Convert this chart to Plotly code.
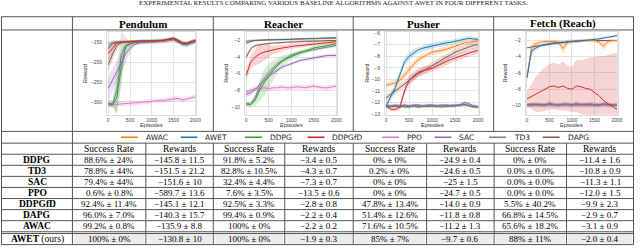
import plotly.graph_objects as go

W, H = 640, 252


def X(p):
    return p / W


def Y(p):
    return 1 - p / H


# ---------------- data ----------------
EPISODES = list(range(0, 2001, 100))
TASKS = ["Pendulum", "Reacher", "Pusher", "Fetch (Reach)"]
ALGOS = ["AWAC", "AWET", "DDPG", "DDPGfD", "PPO", "SAC", "TD3", "DAPG"]
COLORS = {"AWAC": "#ff7f0e", "AWET": "#1f77b4", "DDPG": "#2ca02c", "DDPGfD": "#d62728",
          "PPO": "#e377c2", "SAC": "#9467bd", "TD3": "#7f7f7f", "DAPG": "#8c564b"}

PENDULUM_MEAN = {
    "AWAC": [-155, -153, -152, -151, -150, -149, -149, -148, -148, -148, -148, -147, -147, -146, -144, -143, -147, -152, -153, -150, -147],
    "AWET": [-166, -152, -150, -150, -149, -148, -148, -147, -147, -147, -148, -147, -146, -145, -143, -142, -147, -153, -154, -150, -146],
    "DDPG": [-305, -307, -288, -212, -160, -154, -151, -150, -149, -149, -148, -148, -147, -146, -144, -142, -147, -154, -155, -150, -147],
    "DDPGfD": [-179, -165, -151, -150, -149, -148, -148, -147, -146, -147, -147, -147, -146, -145, -142, -140, -145, -152, -153, -149, -146],
    "PPO": [-308, -307, -305, -305, -304, -303, -302, -302, -300, -300, -298, -297, -296, -296, -294, -292, -291, -295, -292, -290, -287],
    "SAC": [-266, -245, -222, -200, -180, -165, -156, -152, -150, -149, -149, -148, -147, -147, -144, -143, -148, -154, -155, -151, -148],
    "TD3": [-303, -304, -270, -180, -158, -153, -151, -150, -149, -149, -148, -148, -147, -146, -144, -142, -147, -154, -156, -151, -147],
    "DAPG": [-207, -180, -158, -151, -150, -149, -148, -148, -147, -148, -148, -147, -146, -146, -143, -142, -146, -153, -154, -150, -147],
}
PENDULUM_STD = {
    "AWAC": [8, 6, 4, 3, 3, 3, 3, 3, 3, 3, 3, 3, 3, 3, 4, 4, 4, 4, 4, 4, 4],
    "AWET": [12, 8, 4, 3, 3, 3, 3, 3, 3, 3, 3, 3, 3, 3, 4, 4, 4, 4, 4, 4, 4],
    "DDPG": [6, 6, 40, 50, 10, 5, 4, 4, 4, 4, 4, 4, 4, 4, 4, 4, 5, 5, 5, 5, 5],
    "DDPGfD": [20, 15, 6, 4, 3, 3, 3, 3, 3, 3, 3, 3, 3, 3, 4, 4, 4, 4, 4, 4, 4],
    "PPO": [7, 6, 6, 7, 6, 6, 7, 6, 6, 7, 6, 6, 7, 6, 6, 7, 6, 6, 7, 6, 6],
    "SAC": [30, 30, 28, 25, 22, 12, 6, 4, 4, 4, 4, 4, 4, 4, 4, 4, 5, 5, 5, 5, 5],
    "TD3": [9, 9, 60, 60, 20, 8, 6, 6, 6, 6, 6, 6, 6, 6, 6, 6, 7, 7, 7, 7, 7],
    "DAPG": [15, 15, 10, 5, 3, 3, 3, 3, 3, 3, 3, 3, 3, 3, 4, 4, 4, 4, 4, 4, 4],
}

REACHER_MEAN = {
    "AWAC": [-2.05, -2.0, -1.95, -1.95, -1.95, -1.9, -1.9, -1.9, -1.9, -1.85, -1.85, -1.85, -1.85, -1.8, -1.8, -1.8, -1.8, -1.8, -1.75, -1.75, -1.75],
    "AWET": [-2.3, -2.1, -2.0, -1.95, -1.95, -1.9, -1.9, -1.9, -1.85, -1.85, -1.85, -1.8, -1.8, -1.8, -1.75, -1.75, -1.75, -1.7, -1.7, -1.7, -1.65],
    "DDPG": [-9.6, -9.7, -9.2, -8.0, -7.1, -6.3, -5.6, -5.0, -4.5, -4.2, -3.9, -3.7, -3.5, -3.3, -3.1, -2.9, -2.8, -2.7, -2.6, -2.5, -2.4],
    "DDPGfD": [-6.2, -4.6, -4.0, -3.6, -3.4, -3.25, -3.1, -3.0, -2.9, -2.8, -2.7, -2.65, -2.6, -2.55, -2.5, -2.45, -2.4, -2.3, -2.25, -2.2, -2.15],
    "PPO": [-8.2, -8.0, -7.8, -7.8, -7.7, -7.8, -7.7, -7.7, -7.6, -7.7, -7.7, -7.6, -7.6, -7.7, -7.6, -7.5, -7.6, -7.7, -7.7, -7.6, -7.5],
    "SAC": [-8.5, -8.3, -7.9, -7.3, -6.8, -6.3, -5.9, -5.5, -5.2, -5.0, -4.8, -4.6, -4.4, -4.3, -4.2, -4.1, -4.0, -3.9, -3.8, -3.8, -3.8],
    "TD3": [-9.7, -9.7, -8.9, -7.6, -6.6, -5.9, -5.3, -4.8, -4.4, -4.1, -3.8, -3.6, -3.4, -3.3, -3.2, -3.1, -3.0, -2.9, -2.8, -2.7, -2.6],
    "DAPG": [-4.0, -3.0, -2.6, -2.5, -2.4, -2.35, -2.3, -2.3, -2.25, -2.2, -2.2, -2.15, -2.15, -2.1, -2.1, -2.1, -2.05, -2.05, -2.0, -2.0, -2.0],
}
REACHER_STD = {
    "AWAC": [0.2, 0.15, 0.1, 0.1, 0.1, 0.1, 0.1, 0.1, 0.1, 0.1, 0.1, 0.1, 0.1, 0.1, 0.1, 0.1, 0.1, 0.1, 0.1, 0.1, 0.1],
    "AWET": [0.25, 0.15, 0.12, 0.1, 0.1, 0.1, 0.1, 0.1, 0.1, 0.1, 0.1, 0.1, 0.1, 0.1, 0.1, 0.1, 0.1, 0.1, 0.1, 0.1, 0.1],
    "DDPG": [0.3, 0.3, 0.7, 1.3, 1.6, 1.5, 1.2, 0.9, 0.7, 0.5, 0.4, 0.35, 0.3, 0.3, 0.3, 0.25, 0.25, 0.25, 0.2, 0.2, 0.2],
    "DDPGfD": [0.6, 0.8, 1.0, 1.2, 1.0, 0.8, 0.5, 0.4, 0.35, 0.3, 0.3, 0.25, 0.25, 0.25, 0.2, 0.2, 0.2, 0.2, 0.2, 0.2, 0.2],
    "PPO": [0.3, 0.3, 0.3, 0.3, 0.3, 0.3, 0.3, 0.35, 0.3, 0.3, 0.3, 0.35, 0.3, 0.3, 0.35, 0.3, 0.3, 0.3, 0.35, 0.3, 0.3],
    "SAC": [0.3, 0.3, 0.25, 0.25, 0.25, 0.2, 0.2, 0.2, 0.2, 0.2, 0.2, 0.2, 0.2, 0.2, 0.2, 0.2, 0.2, 0.2, 0.2, 0.2, 0.2],
    "TD3": [0.3, 0.3, 0.4, 0.5, 0.4, 0.35, 0.3, 0.3, 0.25, 0.25, 0.2, 0.2, 0.2, 0.2, 0.2, 0.2, 0.2, 0.2, 0.2, 0.2, 0.2],
    "DAPG": [0.3, 0.2, 0.15, 0.1, 0.1, 0.1, 0.1, 0.1, 0.1, 0.1, 0.1, 0.1, 0.1, 0.1, 0.1, 0.1, 0.1, 0.1, 0.1, 0.1, 0.1],
}

PUSHER_MEAN = {
    "AWAC": [-10.5, -10.4, -10.3, -10.1, -9.6, -9.1, -8.7, -8.3, -8.05, -7.85, -7.65, -7.6, -7.5, -7.4, -7.3, -7.15, -7.0, -6.85, -6.8, -6.7, -6.65],
    "AWET": [-12.3, -11.5, -10.7, -9.6, -8.5, -8.0, -7.7, -7.45, -7.3, -7.2, -7.1, -7.0, -6.95, -6.85, -6.8, -6.7, -6.65, -6.55, -6.45, -6.5, -6.55],
    "DDPG": [-12.3, -12.4, -12.3, -12.4, -12.3, -12.4, -12.3, -12.35, -12.3, -12.35, -12.3, -12.35, -12.3, -12.3, -12.25, -12.3, -12.2, -12.15, -12.3, -12.35, -12.4],
    "DDPGfD": [-12.3, -12.6, -12.6, -12.4, -11.0, -10.1, -9.7, -9.4, -9.25, -9.15, -9.05, -8.85, -8.65, -8.5, -8.3, -8.15, -8.0, -7.85, -7.7, -7.6, -7.5],
    "PPO": [-12.25, -12.3, -12.2, -12.3, -12.25, -12.3, -12.2, -12.25, -12.3, -12.2, -12.25, -12.3, -12.2, -12.3, -12.25, -12.2, -12.3, -12.25, -12.2, -12.3, -12.3],
    "SAC": [-12.2, -12.3, -12.25, -12.3, -12.2, -12.3, -12.25, -12.2, -12.3, -12.25, -12.2, -12.3, -12.25, -12.2, -12.3, -12.25, -12.2, -12.0, -12.1, -12.3, -12.35],
    "TD3": [-12.4, -12.3, -12.35, -12.3, -12.4, -12.35, -12.3, -12.4, -12.35, -12.3, -12.35, -12.3, -12.4, -12.35, -12.3, -12.3, -12.25, -12.2, -12.3, -12.4, -12.4],
    "DAPG": [-11.6, -11.3, -11.0, -10.7, -10.4, -10.1, -9.8, -9.5, -9.3, -9.05, -8.8, -8.6, -8.35, -8.1, -7.9, -7.65, -7.5, -7.35, -7.15, -7.05, -7.0],
}
PUSHER_STD = {
    "AWAC": [0.2, 0.25, 0.3, 0.35, 0.35, 0.3, 0.3, 0.3, 0.25, 0.25, 0.25, 0.25, 0.25, 0.25, 0.2, 0.2, 0.2, 0.2, 0.2, 0.2, 0.2],
    "AWET": [0.2, 0.3, 0.35, 0.4, 0.35, 0.3, 0.3, 0.25, 0.25, 0.25, 0.25, 0.25, 0.25, 0.25, 0.2, 0.2, 0.2, 0.2, 0.2, 0.2, 0.2],
    "DDPG": [0.1, 0.12, 0.1, 0.12, 0.1, 0.12, 0.1, 0.12, 0.1, 0.12, 0.1, 0.12, 0.1, 0.12, 0.1, 0.12, 0.1, 0.12, 0.1, 0.12, 0.1],
    "DDPGfD": [0.1, 0.15, 0.15, 0.3, 0.4, 0.45, 0.4, 0.35, 0.35, 0.35, 0.3, 0.3, 0.3, 0.3, 0.3, 0.3, 0.3, 0.3, 0.3, 0.3, 0.3],
    "PPO": [0.12, 0.13, 0.12, 0.13, 0.12, 0.13, 0.12, 0.13, 0.12, 0.13, 0.12, 0.13, 0.12, 0.13, 0.12, 0.13, 0.12, 0.13, 0.12, 0.13, 0.12],
    "SAC": [0.12, 0.12, 0.13, 0.12, 0.12, 0.13, 0.12, 0.12, 0.13, 0.12, 0.12, 0.13, 0.12, 0.12, 0.13, 0.12, 0.12, 0.15, 0.13, 0.12, 0.12],
    "TD3": [0.13, 0.12, 0.12, 0.13, 0.12, 0.12, 0.13, 0.12, 0.12, 0.13, 0.12, 0.12, 0.13, 0.12, 0.12, 0.13, 0.12, 0.12, 0.13, 0.12, 0.12],
    "DAPG": [0.3, 0.3, 0.3, 0.3, 0.3, 0.3, 0.3, 0.3, 0.3, 0.3, 0.3, 0.3, 0.3, 0.3, 0.3, 0.3, 0.3, 0.3, 0.3, 0.3, 0.3],
}

FETCH_MEAN = {
    "AWAC": [-6.5, -2.8, -2.4, -2.2, -2.15, -2.1, -2.1, -2.2, -3.0, -2.2, -2.05, -2.05, -2.0, -2.0, -2.0, -2.0, -2.2, -2.7, -2.1, -2.0, -2.0],
    "AWET": [-6.6, -3.3, -2.9, -2.65, -2.55, -2.45, -2.35, -2.3, -2.25, -2.2, -2.15, -2.1, -2.05, -2.0, -1.9, -1.85, -1.8, -1.7, -1.6, -1.5, -1.4],
    "DDPG": [-9.9, -9.85, -9.9, -9.95, -9.9, -9.85, -9.9, -9.95, -9.9, -9.85, -9.9, -9.95, -9.9, -9.85, -9.9, -9.95, -9.9, -9.85, -9.9, -9.95, -10.0],
    "DDPGfD": [-9.2, -8.9, -8.6, -8.3, -8.0, -7.7, -7.6, -7.8, -7.6, -7.9, -8.0, -7.6, -7.7, -7.9, -8.0, -8.4, -8.8, -9.4, -9.8, -10.1, -10.5],
    "PPO": [-9.95, -9.9, -9.95, -10.0, -9.9, -9.95, -10.0, -9.9, -9.95, -10.0, -9.9, -9.95, -10.0, -9.9, -9.95, -10.0, -9.9, -9.95, -10.0, -9.9, -9.95],
    "SAC": [-9.9, -10.0, -9.8, -9.9, -10.0, -9.7, -9.9, -10.0, -9.8, -9.9, -10.0, -9.7, -9.9, -10.0, -9.8, -9.9, -10.0, -9.8, -9.9, -10.0, -9.9],
    "TD3": [-10.0, -9.9, -10.0, -9.95, -10.0, -9.9, -10.0, -9.95, -10.0, -9.9, -10.0, -9.95, -10.0, -9.9, -10.0, -9.95, -10.0, -9.9, -10.0, -9.95, -10.0],
    "DAPG": [-2.9, -2.8, -2.65, -2.55, -2.45, -2.4, -2.3, -2.25, -2.2, -2.15, -2.1, -2.05, -2.05, -2.0, -2.0, -2.0, -2.0, -2.0, -2.0, -2.0, -2.0],
}
FETCH_STD = {
    "AWAC": [0.5, 0.5, 0.3, 0.2, 0.2, 0.2, 0.2, 0.3, 0.7, 0.3, 0.2, 0.2, 0.2, 0.2, 0.2, 0.2, 0.3, 0.6, 0.3, 0.2, 0.2],
    "AWET": [0.5, 0.5, 0.3, 0.2, 0.2, 0.2, 0.2, 0.2, 0.2, 0.2, 0.2, 0.2, 0.15, 0.15, 0.15, 0.15, 0.15, 0.15, 0.15, 0.15, 0.15],
    "DDPG": [0.15, 0.15, 0.15, 0.15, 0.15, 0.15, 0.15, 0.15, 0.15, 0.15, 0.15, 0.15, 0.15, 0.15, 0.15, 0.15, 0.15, 0.15, 0.15, 0.15, 0.15],
    "DDPGfD": [1.0, 1.5, 2.2, 2.5, 2.7, 2.8, 2.9, 2.8, 3.0, 2.8, 2.8, 3.2, 3.3, 3.6, 3.9, 4.4, 4.9, 5.5, 6.0, 6.5, 6.9],
    "PPO": [0.2, 0.2, 0.2, 0.2, 0.2, 0.2, 0.2, 0.2, 0.2, 0.2, 0.2, 0.2, 0.2, 0.2, 0.2, 0.2, 0.2, 0.2, 0.2, 0.2, 0.2],
    "SAC": [0.25, 0.25, 0.25, 0.25, 0.25, 0.25, 0.25, 0.25, 0.25, 0.25, 0.25, 0.25, 0.25, 0.25, 0.25, 0.25, 0.25, 0.25, 0.25, 0.25, 0.25],
    "TD3": [0.3, 0.3, 0.3, 0.3, 0.3, 0.3, 0.3, 0.3, 0.3, 0.3, 0.3, 0.3, 0.3, 0.3, 0.3, 0.3, 0.3, 0.3, 0.3, 0.3, 0.3],
    "DAPG": [0.1, 0.1, 0.1, 0.1, 0.1, 0.1, 0.1, 0.1, 0.1, 0.1, 0.1, 0.1, 0.1, 0.1, 0.1, 0.1, 0.1, 0.1, 0.1, 0.1, 0.1],
}

X_TICKS = [0, 500, 1000, 1500, 2000]
Y_TICKS_PENDULUM = [-300, -250, -200, -150]
Y_TICKS_REACHER = [-10, -8, -6, -4, -2]
Y_TICKS_PUSHER = [-13, -12, -11, -10, -9, -8, -7, -6]
Y_TICKS_FETCH = [-10, -8, -6, -4, -2]

TITLE = "EXPERIMENTAL RESULTS COMPARING VARIOUS BASELINE ALGORITHMS AGAINST AWET IN FOUR DIFFERENT TASKS."
COLUMN_HEADERS = ["Success Rate", "Rewards"]
ROW_LABELS = ["DDPG", "TD3", "SAC", "PPO", "DDPGfD", "DAPG", "AWAC", "AWET"]
ROW_DDPG = ["88.6% ± 24%", "−145.8 ± 11.5", "91.8% ± 5.2%", "−3.4 ± 0.5", "0% ± 0%", "−24.9 ± 0.4", "0% ± 0%", "−11.4 ± 1.6"]
ROW_TD3 = ["78.8% ± 44%", "−151.5 ± 21.2", "82.8% ± 10.5%", "−4.3 ± 0.7", "0.2% ± 0%", "−24.6 ± 0.5", "0.0% ± 0.0%", "−10.8 ± 0.9"]
ROW_SAC = ["79.4% ± 44%", "−151.6 ± 10", "32.4% ± 4.4%", "−7.3 ± 0.7", "0% ± 0%", "−25 ± 1.5", "0.0% ± 0.0%", "−11.3 ± 1.1"]
ROW_PPO = ["0.6% ± 0.8%", "−589.7 ± 13.6", "7.6% ± 3.5%", "−13.5 ± 0.6", "0% ± 0%", "−24.7 ± 0.5", "0.0% ± 0.0%", "−12.0 ± 1.5"]
ROW_DDPGFD = ["92.4% ± 11.4%", "−145.1 ± 12.1", "92.5% ± 3.3%", "−2.8 ± 0.8", "47.8% ± 13.4%", "−14.0 ± 0.9", "5.5% ± 40.2%", "−9.9 ± 2.3"]
ROW_DAPG = ["96.0% ± 7.0%", "−140.3 ± 15.7", "99.4% ± 0.9%", "−2.2 ± 0.4", "51.4% ± 12.6%", "−11.8 ± 0.8", "66.8% ± 14.5%", "−2.9 ± 0.7"]
ROW_AWAC = ["99.2% ± 0.8%", "−135.9 ± 8.8", "100% ± 0%", "−2.2 ± 0.2", "71.6% ± 10.5%", "−11.2 ± 1.3", "65.6% ± 18.2%", "−3.1 ± 0.9"]
ROW_AWET = ["100% ± 0%", "−130.8 ± 10", "100% ± 0%", "−1.9 ± 0.3", "85% ± 7%", "−9.7 ± 0.6", "88% ± 11%", "−2.0 ± 0.4"]
ROWS = [ROW_DDPG, ROW_TD3, ROW_SAC, ROW_PPO, ROW_DDPGFD, ROW_DAPG, ROW_AWAC, ROW_AWET]

# ---------------- layout geometry (pixels) ----------------
PLOT_X = [(108, 198), (247, 340), (388, 483), (530, 623)]
PLOT_TOP, PLOT_BOT = 30, 114
YRANGES = [(-332, -125.4), (-10.95, -1.02), (-13.06, -5.94), (-11.15, -1.0)]
YLABEL_OFF = [23, 20, 19, 21]
MEANS = [PENDULUM_MEAN, REACHER_MEAN, PUSHER_MEAN, FETCH_MEAN]
STDS = [PENDULUM_STD, REACHER_STD, PUSHER_STD, FETCH_STD]
YTICKS = [Y_TICKS_PENDULUM, Y_TICKS_REACHER, Y_TICKS_PUSHER, Y_TICKS_FETCH]
DRAW_ORDER = ["TD3", "PPO", "DDPG", "SAC", "DAPG", "AWAC", "AWET", "DDPGfD"]


def rgba(hexc, a):
    h = hexc.lstrip("#")
    return "rgba(%d,%d,%d,%.2f)" % (int(h[0:2], 16), int(h[2:4], 16), int(h[4:6], 16), a)


fig = go.Figure()
for i in range(4):
    xa = "x" if i == 0 else "x%d" % (i + 1)
    ya = "y" if i == 0 else "y%d" % (i + 1)
    for algo in DRAW_ORDER:
        m = MEANS[i][algo]
        s = STDS[i][algo]
        up = [a + b for a, b in zip(m, s)]
        lo = [a - b for a, b in zip(m, s)]
        fig.add_trace(go.Scatter(x=EPISODES + EPISODES[::-1], y=up + lo[::-1], fill="toself",
                                 fillcolor=rgba(COLORS[algo], 0.2), line=dict(width=0),
                                 mode="lines", hoverinfo="skip", showlegend=False,
                                 xaxis=xa, yaxis=ya))
    for algo in DRAW_ORDER:
        fig.add_trace(go.Scatter(x=EPISODES, y=MEANS[i][algo], mode="lines",
                                 line=dict(color=COLORS[algo], width=1.0),
                                 name=algo, showlegend=False, xaxis=xa, yaxis=ya))

layout = dict(width=W, height=H, margin=dict(l=0, r=0, t=0, b=0),
              paper_bgcolor="white", plot_bgcolor="white", showlegend=False)
tickfont = dict(family="Liberation Sans", size=5, color="#444")
for i in range(4):
    xk = "xaxis" if i == 0 else "xaxis%d" % (i + 1)
    yk = "yaxis" if i == 0 else "yaxis%d" % (i + 1)
    x0, x1 = PLOT_X[i]
    layout[xk] = dict(domain=[X(x0), X(x1)], range=[-25, 2025], tickvals=X_TICKS,
                      anchor="y" if i == 0 else "y%d" % (i + 1),
                      showgrid=True, gridcolor="#e4e4e4", gridwidth=1, zeroline=False,
                      showline=True, linecolor="#dcdcdc", mirror=True,
                      ticks="", tickfont=tickfont)
    layout[yk] = dict(domain=[Y(PLOT_BOT), Y(PLOT_TOP)], range=list(YRANGES[i]), tickvals=YTICKS[i],
                      anchor="x" if i == 0 else "x%d" % (i + 1),
                      showgrid=True, gridcolor="#e4e4e4", gridwidth=1, zeroline=False,
                      showline=True, linecolor="#dcdcdc", mirror=True,
                      ticks="outside", ticklen=3, tickcolor="rgba(0,0,0,0)", tickfont=tickfont)
fig.update_layout(**layout)

shapes = []
ann = []
LC = "#555"


def hline(y, x0=1.5, x1=638.5, w=1, c=LC):
    shapes.append(dict(type="line", xref="paper", yref="paper", x0=X(x0), x1=X(x1), y0=Y(y), y1=Y(y),
                       line=dict(color=c, width=w)))


def vline(x, y0, y1, w=1, c=LC):
    shapes.append(dict(type="line", xref="paper", yref="paper", x0=X(x), x1=X(x), y0=Y(y0), y1=Y(y1),
                       line=dict(color=c, width=w)))


# AWET row highlight
ROW_LINES = [143, 154.3, 165.6, 176.9, 188.2, 199.5, 210.8, 222.1, 233.4, 246.5]
COLS = [73, 147, 215, 287, 356, 430, 498, 571, 638.5]
for j in range(8):
    shapes.append(dict(type="rect", xref="paper", yref="paper", layer="below",
                       x0=X(COLS[j] + 1.5), x1=X(COLS[j + 1] - 1.5), y0=Y(245.5), y1=Y(236),
                       fillcolor="#ebebeb", line=dict(width=0)))

# outer + row lines
hline(14)
hline(27.5)
hline(131)
for y in ROW_LINES:
    hline(y)
hline(235.2)
vline(1.5, 14, 246.5)
vline(638.5, 14, 246.5)
vline(73, 14, 246.5)
for x in [215, 356, 497.5]:
    vline(x, 14, 131)
for x in COLS[1:-1]:
    vline(x, 143, 246.5)

serif = "Liberation Serif"
# title (cut by the top edge, as in the reference)
ann.append(dict(text=TITLE, x=X(336), y=Y(5.5), xref="paper", yref="paper", showarrow=False,
                font=dict(family=serif, size=7, color="#222"), xanchor="center", yanchor="bottom",
                borderpad=0))
# task headers
TASK_CENTERS = [144, 285.5, 426.5, 567.5]
for t, cx in zip(TASKS, TASK_CENTERS):
    ann.append(dict(text="<b>%s</b>" % t, x=X(cx), y=Y(21), xref="paper", yref="paper", showarrow=False,
                    font=dict(family=serif, size=11, color="black"), xanchor="center", yanchor="middle"))
# axis labels
for i in range(4):
    x0, x1 = PLOT_X[i]
    ann.append(dict(text="Episodes", x=X((x0 + x1) / 2), y=Y(124.5), xref="paper", yref="paper",
                    showarrow=False, font=dict(family="Liberation Sans", size=5.5, color="#333"),
                    xanchor="center", yanchor="middle"))
    ann.append(dict(text="Reward", x=X(x0 - YLABEL_OFF[i]), y=Y(72), xref="paper", yref="paper",
                    showarrow=False, textangle=-90, font=dict(family="Liberation Sans", size=5.5, color="#333"),
                    xanchor="center", yanchor="middle"))
# legend row
LEG_X = {"AWAC": 122, "AWET": 182, "DDPG": 247, "DDPGfD": 310, "PPO": 385, "SAC": 438, "TD3": 493, "DAPG": 547}
for algo in ALGOS:
    lx = LEG_X[algo]
    shapes.append(dict(type="line", xref="paper", yref="paper", x0=X(lx), x1=X(lx + 17), y0=Y(137), y1=Y(137),
                       line=dict(color=COLORS[algo], width=1.6)))
    ann.append(dict(text=algo, x=X(lx + 23), y=Y(137), xref="paper", yref="paper", showarrow=False,
                    font=dict(family="DejaVu Sans", size=7.5, color="#222"), xanchor="left", yanchor="middle"))
# column headers
centers = [(COLS[j] + COLS[j + 1]) / 2 for j in range(8)]
for j in range(8):
    ann.append(dict(text=COLUMN_HEADERS[j % 2], x=X(centers[j]), y=Y(148.7), xref="paper", yref="paper",
                    showarrow=False, font=dict(family=serif, size=9.5, color="black"),
                    xanchor="center", yanchor="middle"))
# rows
for r, (lab, row) in enumerate(zip(ROW_LABELS, ROWS)):
    cy = (ROW_LINES[r + 1] + ROW_LINES[r + 2]) / 2 if r < 7 else 240.8
    labtxt = "<b>%s</b>" % lab if lab != "AWET" else "<b>AWET</b> (ours)"
    ann.append(dict(text=labtxt, x=X(37.5), y=Y(cy), xref="paper", yref="paper", showarrow=False,
                    font=dict(family=serif, size=9.5, color="black"), xanchor="center", yanchor="middle"))
    for j in range(8):
        ann.append(dict(text=row[j], x=X(centers[j]), y=Y(cy), xref="paper", yref="paper", showarrow=False,
                        font=dict(family=serif, size=9, color="black"), xanchor="center", yanchor="middle"))

fig.update_layout(shapes=shapes, annotations=ann)
fig.write_html("out.html", config={"displayModeBar": False},
               post_script="document.body.style.margin='0';")
